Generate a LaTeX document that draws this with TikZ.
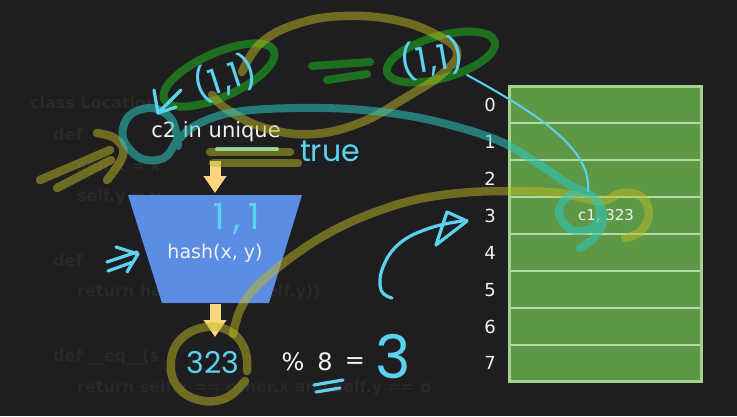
\documentclass[tikz,border=0pt]{standalone}
\usepackage{fontspec}
\setmainfont{DejaVu Sans}
\newfontfamily\hand{Poppins}
\usetikzlibrary{arrows.meta}
\definecolor{bg}{HTML}{1E1D20}
\definecolor{codec}{HTML}{29282B}
\definecolor{tfill}{HTML}{5C9846}
\definecolor{tborder}{HTML}{A6CF90}
\definecolor{tline}{HTML}{B8DBA5}
\definecolor{funnel}{HTML}{5B8DE4}
\definecolor{yel}{HTML}{FBD681}
\definecolor{txt}{HTML}{F2F2F2}
\definecolor{olive}{HTML}{C0BA22}
\definecolor{grn}{HTML}{1F7A1F}
\definecolor{teal}{HTML}{2EC9C0}
\definecolor{cyan}{HTML}{5BD3EF}
\definecolor{lgrn}{HTML}{9BE8A4}
\begin{document}
\begin{tikzpicture}[x=1pt,y=-1pt,
  lbl/.style={text=txt, inner sep=0pt},
  code/.style={text=codec, inner sep=0pt, anchor=west, font=\bfseries\fontsize{16}{19}\selectfont},
  hw/.style={text=cyan, inner sep=0pt},
  yarrow/.style={draw=yel, line width=11pt, -{Triangle[width=22pt,length=17pt]}},
  olv/.style={draw=olive, draw opacity=.5, line width=8.5pt, line cap=round, line join=round},
  grs/.style={draw=grn, draw opacity=.9, line width=8pt, line cap=round, line join=round},
  tls/.style={draw=teal, draw opacity=.55, line width=8pt, line cap=round, line join=round},
  cys/.style={draw=cyan, line width=3.2pt, line cap=round, line join=round},
]
\fill[bg] (0,0) rectangle (737,416);
\useasboundingbox (0,0) rectangle (737,416);

% faint code in the background
\node[code] (k1) at (30,103) {class Location:};
\node[code] (k2) at (53,135) {def};
\node[code] (k3) at (77,166) {self.x = x};
\node[code] (k4) at (77,197) {self.y = y};
\node[code] (k5) at (53,261) {def};
\node[code] (k6) at (77,292) {return hash((self.x, self.y))};
\node[code] (k7) at (53,357) {def \_\_eq\_\_(s};
\node[code] (k8) at (77,388) {return self.x == other.x and self.y == o};

% table
\draw[tborder, fill=tfill, line width=3pt] (509.5,86.5) rectangle (701.5,381.5);
\foreach \yy in {123.4,160.3,197.2,234.1,271,307.9,344.8}
  \draw[tline, line width=2pt] (511,\yy) -- (700,\yy);
\foreach \i/\yy in {0/105,1/142,2/179,3/216,4/253,5/290,6/327,7/363}
  \node[lbl, font=\fontsize{18}{20}\selectfont] (l\i) at (490,\yy) {\i};
\node[lbl, font=\fontsize{15}{18}\selectfont] (c1) at (606,216) {c1, 323};

% funnel
\fill[funnel] (128,195) -- (302,195) -- (269,303) -- (162,303) -- cycle;
\node[lbl, font=\fontsize{19}{22}\selectfont] (hash) at (215,253) {hash(x, y)};
\node[lbl, font=\fontsize{21}{24}\selectfont] (c2) at (216,132) {c2 in unique};

% yellow block arrows
\coordinate (a1s) at (215,161);
\coordinate (a1e) at (215,193);
\coordinate (a2s) at (215,304);
\coordinate (a2e) at (215,337);
\draw[yarrow] (a1s) -- (a1e);
\draw[yarrow] (a2s) -- (a2e);

% modulo line
\node[lbl, font=\fontsize{24}{26}\selectfont] (pct) at (293,362) {\%};
\node[lbl, font=\fontsize{24}{26}\selectfont] (eight) at (325,362) {8};
\node[lbl, font=\fontsize{24}{26}\selectfont] (eqs) at (355,363) {=};

% green annotations
\draw[grs, rotate around={24:(219,75)}] (219,75) ellipse [x radius=60, y radius=22];
\draw[grs, rotate around={16:(441,57)}] (441,57) ellipse [x radius=56, y radius=21];
\draw[grs] (312,66) -- (370,62);
\draw[grs] (327,80) -- (367,74);

% olive annotations
\draw[olv] plot[smooth, tension=.7] coordinates {(242,72) (262,42) (300,23) (345,16) (395,20) (435,34) (457,52) (442,74) (405,98) (362,122) (313,134) (265,128) (228,110) (212,95)};
\draw[olv] (40,180) -- (110,150);
\draw[olv] (57,188) -- (111,160);
\draw[olv] plot[smooth, tension=.7] coordinates {(97,133) (116,139) (123,155) (107,180)};
\draw[olv] (210,152) -- (290,152);
\draw[olv] (213,163) -- (298,163);
\draw[olv] plot[smooth, tension=.7] coordinates {(245,381) (226,398) (199,400) (177,386) (171,361) (182,338) (207,327) (231,332) (245,350) (247,371)};
\draw[olv] plot[smooth, tension=.6] coordinates {(233,334) (240,310) (255,288) (285,262) (320,238) (360,218) (410,201) (460,193) (510,191) (560,193) (600,201) (622,193) (642,197) (649,215) (640,232) (625,238)};

% teal annotation
\draw[tls] plot[smooth, tension=.6] coordinates {(178,146) (172,120) (152,108) (129,116) (123,138) (140,158) (164,158) (178,140) (198,124) (235,112) (297,108) (363,110) (430,120) (497,140) (540,165) (570,185) (592,196) (600,212) (592,228) (572,230) (559,214) (566,198) (584,193) (600,204) (603,222) (594,238) (580,248)};

% light green underline
\draw[draw=lgrn, line width=4pt, line cap=round, draw opacity=.85] (217,149) -- (277,149);

% cyan annotations
\coordinate (t1) at (467,75);
\coordinate (t2) at (588,191);
\draw[draw=cyan, line width=2pt, line cap=round] (t1) .. controls (540,115) and (592,150) .. (t2);
\draw[cys] (181,90) -- (158,113) -- (154,90);
\draw[cys] (158,113) -- (176,107);
\draw[cys] (107,262) -- (137,252);
\draw[cys] (108,271) -- (133,262);
\draw[cys] (116,247) -- (138,254) -- (127,272);
\draw[cys] plot[smooth, tension=.7] coordinates {(392,298) (381,290) (383,267) (400,243) (430,228) (462,221)};
\draw[cys] (447,212) -- (467,221) -- (436,245) -- cycle;
\draw[cys] (314,385) -- (343,380);
\draw[cys] (316,392) -- (340,388);
\node[hw, rotate=18, font=\hand\fontsize{35}{37}\selectfont] (p1) at (225,78) {(1\kern2pt,\kern1pt1)};
\node[hw, rotate=10, font=\hand\fontsize{35}{37}\selectfont] (p2) at (432,58) {(1\kern2pt,\kern1pt1)};
\node[hw, font=\hand\fontsize{30}{32}\selectfont] (tru) at (330,151) {true};
\node[hw, font=\hand\fontsize{36}{38}\selectfont] (h11) at (237,219) {1\kern8pt,\kern8pt1};
\node[hw, font=\hand\fontsize{30}{32}\selectfont] (n323) at (213,363) {323};
\node[hw, font=\hand\fontsize{60}{62}\selectfont] (three) at (393,357) {3};
\end{tikzpicture}
\end{document}
